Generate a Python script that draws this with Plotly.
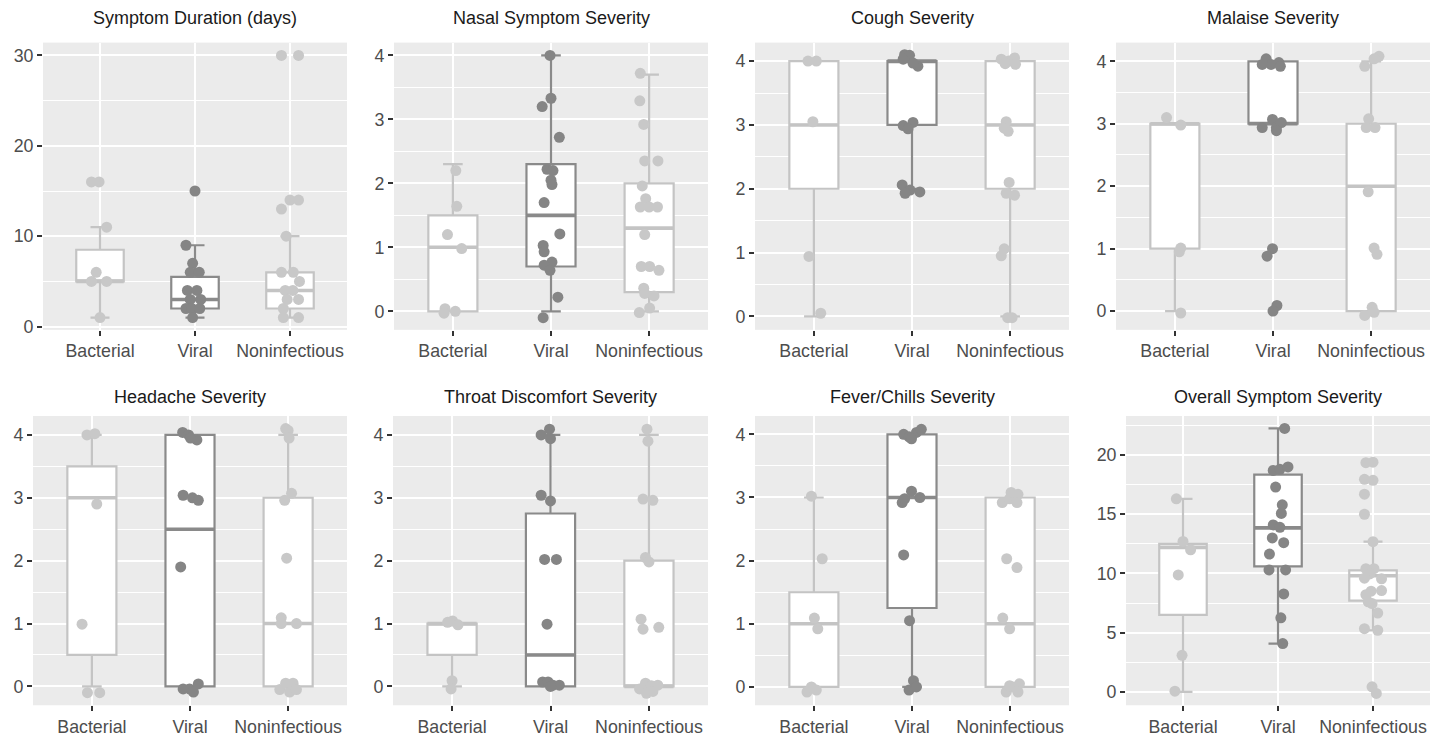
import plotly.graph_objects as go

CATEGORIES = ["Bacterial", "Viral", "Noninfectious"]
TITLES = ["Symptom Duration (days)", "Nasal Symptom Severity", "Cough Severity",
          "Malaise Severity", "Headache Severity", "Throat Discomfort Severity",
          "Fever/Chills Severity", "Overall Symptom Severity"]

# ---------------- Symptom duration ----------------
dur_bact = [16, 16, 11, 6, 5, 5, 1]
dur_bact_dx = [-0.09, -0.01, 0.07, -0.04, -0.09, 0.07, 0.0]
dur_vir = [15, 9, 7, 6, 6, 4, 4, 3, 3, 2, 2, 2, 1]
dur_vir_dx = [0.0, -0.095, -0.025, -0.05, 0.045, -0.08, 0.02, -0.05, 0.06, -0.095, -0.035, 0.05, -0.025]
dur_non = [30, 30, 14, 14, 13, 10, 6, 6, 5, 4, 4, 3, 3, 2, 1, 1]
dur_non_dx = [-0.09, 0.09, 0.0, 0.09, -0.09, -0.04, -0.09, 0.035, 0.1, -0.05, 0.03, 0.09, -0.03, -0.07, -0.07, 0.09]
dur_q1 = [5, 2, 2]
dur_med = [5, 3, 4]
dur_q3 = [8.5, 5.5, 6]
dur_lo = [1, 1, 1]
dur_hi = [11, 9, 10]

# ---------------- Nasal ----------------
nas_bact = [2.2, 1.64, 1.2, 0.98, 0.04, -0.03, 0.0]
nas_bact_dx = [0.03, 0.04, -0.055, 0.09, -0.08, -0.09, 0.025]
nas_vir = [4.0, 3.33, 3.2, 2.72, 2.22, 2.2, 2.05, 1.98, 1.7, 1.21, 1.03, 0.93, 0.77, 0.72, 0.64, 0.22, -0.1]
nas_vir_dx = [-0.01, 0.0, -0.09, 0.085, -0.04, 0.02, 0.0, 0.01, -0.07, 0.09, -0.08, -0.07, 0.01, -0.07, -0.01, 0.07, -0.08]
nas_non = [3.72, 3.29, 2.92, 2.35, 2.35, 1.96, 1.76, 1.63, 1.63, 1.63, 1.2, 0.7, 0.7, 0.64, 0.36, 0.28, 0.24, 0.05, -0.02]
nas_non_dx = [-0.09, -0.095, -0.055, -0.045, 0.09, -0.07, -0.035, -0.09, 0.0, 0.085, -0.045, -0.08, 0.005, 0.1, -0.055, -0.045, 0.05, 0.005, -0.1]
nas_q1 = [0, 0.7, 0.3]
nas_med = [1, 1.5, 1.3]
nas_q3 = [1.5, 2.3, 2.0]
nas_lo = [0, 0, 0]
nas_hi = [2.3, 4, 3.7]

# ---------------- Cough ----------------
cou_bact = [4.0, 4.0, 3.05, 0.94, 0.05]
cou_bact_dx = [-0.06, 0.025, -0.01, -0.05, 0.07]
cou_vir = [4.1, 4.09, 3.92, 3.97, 4.03, 2.99, 3.04, 2.94, 2.06, 1.98, 1.95, 1.93]
cou_vir_dx = [-0.075, -0.025, 0.06, 0.01, -0.09, -0.09, 0.01, -0.04, -0.1, -0.02, 0.08, -0.07]
cou_non = [4.03, 4.0, 4.05, 3.96, 3.95, 3.05, 2.95, 2.9, 2.1, 1.93, 1.9, 1.06, 0.95, -0.02, -0.02]
cou_non_dx = [-0.09, -0.015, 0.045, -0.05, 0.055, -0.04, -0.06, -0.02, -0.01, -0.04, 0.045, -0.06, -0.09, -0.025, 0.02]
cou_q1 = [2, 3, 2]
cou_med = [3, 4, 3]
cou_q3 = [4, 4, 4]
cou_lo = [0, 2, 0]
cou_hi = [4, 4, 4]

# ---------------- Malaise ----------------
mal_bact = [3.1, 2.98, 1.01, 0.95, -0.03]
mal_bact_dx = [-0.085, 0.06, 0.06, 0.045, 0.06]
mal_vir = [4.04, 3.98, 3.95, 3.95, 3.92, 2.94, 3.07, 2.94, 3.02, 2.89, 1.0, 0.88, 0.09, 0.0]
mal_vir_dx = [-0.07, 0.06, -0.02, -0.11, 0.075, -0.11, -0.005, 0.035, 0.085, 0.035, -0.005, -0.06, 0.04, 0.0]
mal_non = [3.92, 4.08, 4.04, 3.08, 2.94, 2.94, 1.91, 1.01, 0.91, 0.06, -0.07, -0.02]
mal_non_dx = [-0.065, 0.08, 0.03, -0.025, -0.05, 0.04, -0.03, 0.03, 0.06, 0.01, -0.065, 0.03]
mal_q1 = [1, 3, 0]
mal_med = [3, 3, 2]
mal_q3 = [3, 4, 3]
mal_lo = [0, 3, 0]
mal_hi = [3, 4, 4]

# ---------------- Headache ----------------
hea_bact = [4.0, 4.02, 2.9, 0.99, -0.1, -0.1]
hea_bact_dx = [-0.05, 0.03, 0.05, -0.1, -0.045, 0.08]
hea_vir = [4.04, 4.0, 3.92, 3.95, 3.04, 3.0, 2.96, 1.9, -0.04, -0.04, -0.09, 0.04]
hea_vir_dx = [-0.075, -0.015, 0.07, 0.005, -0.07, 0.025, 0.085, -0.095, -0.07, -0.005, 0.035, 0.085]
hea_non = [4.1, 4.07, 3.95, 3.07, 2.96, 2.04, 1.09, 1.0, 1.0, 0.05, 0.05, -0.05, -0.09, -0.05]
hea_non_dx = [-0.025, 0.0, 0.01, 0.035, -0.035, -0.015, -0.07, -0.07, 0.085, -0.025, 0.05, -0.085, 0.015, 0.085]
hea_q1 = [0.5, 0, 0]
hea_med = [3, 2.5, 1]
hea_q3 = [3.5, 4, 3]
hea_lo = [0, 0, 0]
hea_hi = [4, 4, 4]

# ---------------- Throat ----------------
thr_bact = [1.02, 1.04, 0.98, 0.09, -0.04]
thr_bact_dx = [-0.045, 0.005, 0.06, 0.0, -0.01]
thr_vir = [4.0, 4.09, 3.94, 3.04, 2.95, 2.02, 2.02, 0.99, 0.07, 0.07, 0.02, 0.02, 0.0]
thr_vir_dx = [-0.095, -0.01, 0.0, -0.095, 0.0, -0.06, 0.06, -0.035, -0.08, -0.025, 0.025, 0.09, 0.0]
thr_non = [4.09, 3.9, 2.98, 2.96, 2.05, 1.98, 1.07, 0.91, 0.94, -0.04, 0.05, 0.01, 0.02, -0.11, -0.08]
thr_non_dx = [-0.02, -0.01, -0.06, 0.04, -0.035, 0.0, -0.08, -0.06, 0.1, -0.095, -0.035, 0.025, 0.09, -0.025, 0.04]
thr_q1 = [0.5, 0, 0]
thr_med = [1, 0.5, 0]
thr_q3 = [1, 2.75, 2]
thr_lo = [0, 0, 0]
thr_hi = [1, 4, 4]

# ---------------- Fever/Chills ----------------
fev_bact = [3.02, 2.03, 1.09, 0.92, -0.08, 0.0, -0.05]
fev_bact_dx = [-0.025, 0.085, 0.005, 0.04, -0.07, -0.025, 0.025]
fev_vir = [4.0, 3.96, 4.03, 4.08, 3.93, 2.92, 3.1, 3.0, 2.98, 2.09, 1.05, 0.1, -0.05, 0.0]
fev_vir_dx = [-0.085, -0.03, 0.045, 0.095, -0.005, -0.1, -0.005, 0.08, -0.075, -0.085, -0.025, 0.015, -0.03, 0.045]
fev_non = [2.92, 2.98, 3.05, 2.92, 3.08, 2.03, 1.89, 1.09, 0.92, -0.08, 0.0, 0.05, -0.08, 0.02]
fev_non_dx = [-0.08, -0.005, 0.08, 0.07, 0.01, -0.035, 0.07, -0.075, -0.005, -0.04, 0.025, 0.095, 0.08, -0.005]
fev_q1 = [0, 1.25, 0]
fev_med = [1, 3, 1]
fev_q3 = [1.5, 4, 3]
fev_lo = [0, 0, 0]
fev_hi = [3, 4, 3]

# ---------------- Overall ----------------
ove_bact = [16.3, 12.7, 12.0, 9.87, 3.08, 0.05]
ove_bact_dx = [-0.07, 0.0, 0.08, -0.05, -0.01, -0.085]
ove_vir = [22.25, 18.7, 18.8, 19.0, 17.3, 15.8, 15.07, 14.1, 13.9, 13.0, 12.6, 11.64, 10.3, 10.3, 8.27, 6.25, 4.07]
ove_vir_dx = [0.07, -0.05, 0.02, 0.105, -0.025, 0.045, 0.035, -0.05, 0.02, -0.06, 0.06, -0.09, -0.095, 0.08, 0.06, 0.03, 0.05]
ove_non = [19.36, 19.4, 17.95, 17.87, 16.7, 15.0, 12.68, 10.4, 10.4, 9.96, 9.6, 9.55, 8.55, 8.2, 8.5,
           7.6, 7.45, 6.65, 5.33, 5.2, 0.42, -0.14]
ove_non_dx = [-0.075, 0.0, -0.09, 0.0, -0.09, -0.09, 0.0, -0.075, 0.01, -0.035, -0.09, 0.09, 0.09, -0.075,
              -0.02, -0.05, -0.01, 0.05, -0.09, 0.05, -0.01, 0.035]
ove_q1 = [6.5, 10.6, 7.7]
ove_med = [12.2, 13.85, 9.8]
ove_q3 = [12.5, 18.35, 10.25]
ove_lo = [0, 4.07, 5.2]
ove_hi = [16.3, 22.25, 12.68]

PANELS = [
    ([dur_bact, dur_vir, dur_non], [dur_bact_dx, dur_vir_dx, dur_non_dx], dur_q1, dur_med, dur_q3, dur_lo, dur_hi),
    ([nas_bact, nas_vir, nas_non], [nas_bact_dx, nas_vir_dx, nas_non_dx], nas_q1, nas_med, nas_q3, nas_lo, nas_hi),
    ([cou_bact, cou_vir, cou_non], [cou_bact_dx, cou_vir_dx, cou_non_dx], cou_q1, cou_med, cou_q3, cou_lo, cou_hi),
    ([mal_bact, mal_vir, mal_non], [mal_bact_dx, mal_vir_dx, mal_non_dx], mal_q1, mal_med, mal_q3, mal_lo, mal_hi),
    ([hea_bact, hea_vir, hea_non], [hea_bact_dx, hea_vir_dx, hea_non_dx], hea_q1, hea_med, hea_q3, hea_lo, hea_hi),
    ([thr_bact, thr_vir, thr_non], [thr_bact_dx, thr_vir_dx, thr_non_dx], thr_q1, thr_med, thr_q3, thr_lo, thr_hi),
    ([fev_bact, fev_vir, fev_non], [fev_bact_dx, fev_vir_dx, fev_non_dx], fev_q1, fev_med, fev_q3, fev_lo, fev_hi),
    ([ove_bact, ove_vir, ove_non], [ove_bact_dx, ove_vir_dx, ove_non_dx], ove_q1, ove_med, ove_q3, ove_lo, ove_hi),
]

# axis setup (layout only)
Y_RANGES = [[-0.36, 31.42], [-0.29, 4.2], [-0.21, 4.29], [-0.3, 4.3],
            [-0.3, 4.3], [-0.3, 4.3], [-0.29, 4.29], [-1.14, 23.3]]
Y_DTICK = [10, 1, 1, 1, 1, 1, 1, 5]
W, H = 1442, 740
PX_X = [(43, 347), (394, 708), (755, 1069), (1116, 1430),
        (33, 347), (393, 708), (755, 1069), (1126, 1430)]
PX_Y = [(43, 333)] * 4 + [(420, 712)] * 4
TITLE_Y = [18] * 4 + [401] * 4

LIGHT_LINE, LIGHT_PT = "#C4C4C4", "#C8C8C8"
DARK_LINE, DARK_PT = "#8A8A8A", "#858585"
FONT = "Liberation Sans, Arial, sans-serif"

fig = go.Figure()
layout = dict(width=W, height=H, margin=dict(l=0, r=0, t=0, b=0),
              paper_bgcolor="white", plot_bgcolor="#EBEBEB", showlegend=False,
              boxmode="overlay", font=dict(family=FONT))
annotations = []

for i, (vals, dxs, q1, med, q3, lo, hi) in enumerate(PANELS):
    sfx = "" if i == 0 else str(i + 1)
    xr, yr = "x" + sfx, "y" + sfx
    for g in range(3):
        lc = DARK_LINE if g == 1 else LIGHT_LINE
        pc = DARK_PT if g == 1 else LIGHT_PT
        pos = g + 1
        fig.add_trace(go.Box(x=[pos], q1=[q1[g]], median=[med[g]], q3=[q3[g]],
                             lowerfence=[lo[g]], upperfence=[hi[g]], width=0.5,
                             whiskerwidth=0.4, fillcolor="white",
                             line=dict(color=lc, width=2.2), boxpoints=False,
                             xaxis=xr, yaxis=yr, hoverinfo="skip"))
        fig.add_trace(go.Scatter(x=[pos - 0.25, pos + 0.25], y=[med[g], med[g]],
                                 mode="lines", line=dict(color=lc, width=3.6),
                                 xaxis=xr, yaxis=yr, hoverinfo="skip"))
        fig.add_trace(go.Scatter(x=[pos + d for d in dxs[g]], y=vals[g], mode="markers",
                                 marker=dict(size=11, color=pc, line=dict(width=0)),
                                 xaxis=xr, yaxis=yr, hoverinfo="skip"))
    x0, x1 = PX_X[i]
    y0, y1 = PX_Y[i]
    layout["xaxis" + sfx] = dict(
        domain=[x0 / W, x1 / W], anchor=yr, range=[0.4, 3.6],
        tickmode="array", tickvals=[1, 2, 3], ticktext=CATEGORIES,
        showgrid=True, gridcolor="white", gridwidth=2, zeroline=False,
        ticks="outside", ticklen=5, tickwidth=1.5, tickcolor="#333333",
        tickfont=dict(size=17.8, color="#4D4D4D", family=FONT), fixedrange=True)
    dt = Y_DTICK[i]
    layout["yaxis" + sfx] = dict(
        domain=[1 - y1 / H, 1 - y0 / H], anchor=xr, range=Y_RANGES[i],
        tick0=0, dtick=dt, showgrid=True, gridcolor="white", gridwidth=2,
        minor=dict(dtick=dt / 2, tick0=0, showgrid=True, gridcolor="white", gridwidth=1),
        zeroline=False, ticks="outside", ticklen=5, tickwidth=1.5, tickcolor="#333333",
        tickfont=dict(size=17.8, color="#4D4D4D", family=FONT), fixedrange=True)
    annotations.append(dict(text=TITLES[i], x=(x0 + x1) / 2 / W, y=1 - TITLE_Y[i] / H,
                            xref="paper", yref="paper", xanchor="center", yanchor="middle",
                            showarrow=False, font=dict(size=18, color="#1A1A1A", family=FONT)))

layout["annotations"] = annotations
fig.update_layout(**layout)
fig.write_html("out.html", config={"displayModeBar": False},
               post_script="document.body.style.margin='0px';document.body.style.overflow='hidden';")
